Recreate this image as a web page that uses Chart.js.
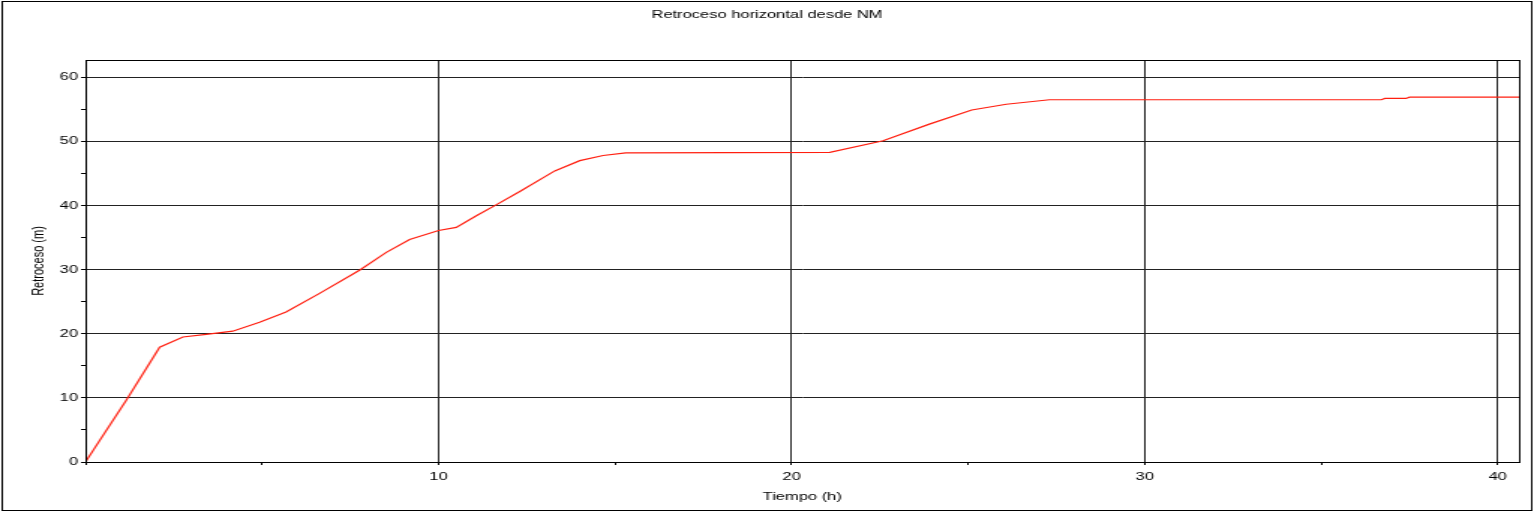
<!DOCTYPE html>
<html>
<head>
<meta charset="utf-8">
<title>Retroceso horizontal desde NM</title>
<script src="https://cdn.jsdelivr.net/npm/chart.js"></script>
<style>
  html, body { margin: 0; padding: 0; background: #fff; overflow: hidden; }
  /* el original está estirado en horizontal */
  #caja { width: 1023px; height: 512px; transform: scaleX(1.4995); transform-origin: 0 0; }
</style>
</head>
<body>
<div id="caja"><canvas id="grafico" width="1023" height="512"></canvas></div>
<script>
// datos
const tiempo = [0, 1.15, 2.1, 2.76, 3.42, 4.17, 4.93, 5.68, 6.63, 7.76, 8.52, 9.18, 10.0, 10.5, 11.07,
    11.63, 12.3, 13.29, 14.0, 14.66, 15.3, 21.08, 22.59, 23.9, 25.1, 26.08, 27.3, 36.7, 36.8, 37.4, 37.5, 40.6];
const retroceso = [0, 9.6, 17.9, 19.5, 19.9, 20.4, 21.8, 23.4, 26.3, 29.9, 32.7, 34.7, 36.1, 36.6, 38.4,
    40.1, 42.2, 45.4, 47.0, 47.8, 48.2, 48.3, 50.1, 52.7, 54.9, 55.8, 56.5, 56.5, 56.7, 56.7, 56.9, 56.9];
const titulo = 'Retroceso horizontal desde NM';
const tituloX = 'Tiempo (h)';
const tituloY = 'Retroceso (m)';

const fuente = { family: "'Liberation Sans', Arial, sans-serif", size: 11, weight: 'normal' };
const gris = '#222';

// marco exterior y borde del área de trazado
const marco = {
    id: 'marco',
    afterDraw(chart) {
        const c = chart.ctx, a = chart.chartArea;
        c.save();
        c.strokeStyle = '#000';
        c.lineWidth = 1;
        c.strokeRect(Math.round(a.left) + 0.5, Math.round(a.top) + 0.5,
            Math.round(a.right - a.left), Math.round(a.bottom - a.top));
        c.strokeRect(1.5, 1.5, chart.width - 3, chart.height - 3);
        c.restore();
    }
};

var ctx = document.getElementById('grafico');
var grafico = new Chart(ctx, {
    type: 'line',
    data: {
        datasets: [{
            label: tituloY,
            data: tiempo.map((t, i) => ({ x: t, y: retroceso[i] })),
            borderColor: 'rgb(255, 30, 15)',
            borderWidth: 1.2,
            pointRadius: 0,
            tension: 0,
            fill: false
        }]
    },
    options: {
        responsive: false,
        devicePixelRatio: 1,
        animation: false,
        layout: { padding: 0 },
        plugins: {
            legend: { display: false },
            tooltip: { enabled: false },
            title: {
                display: true,
                text: titulo,
                color: '#000',
                font: fuente,
                padding: { top: 8, bottom: 38.8 }
            }
        },
        scales: {
            x: {
                type: 'linear',
                min: 0,
                max: 40.6,
                afterFit: s => { s.height = 50; },
                ticks: {
                    stepSize: 5,
                    includeBounds: false,
                    maxTicksLimit: 20,
                    autoSkip: false,
                    maxRotation: 0,
                    padding: 5,
                    color: '#000',
                    font: fuente,
                    callback: v => (v > 0 && v % 10 === 0) ? v : ''
                },
                grid: {
                    color: c => (c.tick && c.tick.value % 10 === 0) ? gris : 'rgba(0,0,0,0)',
                    tickColor: '#000',
                    tickLength: 3
                },
                border: { color: '#000', width: 1 },
                title: { display: true, text: tituloX, color: '#000', font: fuente, padding: { top: 0, bottom: 8 } }
            },
            y: {
                min: 0,
                max: 62.7,
                afterFit: s => { s.width = 57; },
                ticks: {
                    stepSize: 5,
                    includeBounds: false,
                    maxTicksLimit: 20,
                    autoSkip: false,
                    padding: 2,
                    color: '#000',
                    font: fuente,
                    callback: v => v % 10 === 0 ? v : ''
                },
                grid: {
                    color: c => (c.tick && c.tick.value % 10 === 0) ? gris : 'rgba(0,0,0,0)',
                    tickColor: '#000',
                    tickLength: 3
                },
                border: { color: '#000', width: 1 },
                title: { display: true, text: tituloY, color: '#000', font: fuente, padding: { top: 19, bottom: 0 } }
            },
            // margen derecho vacío, así el título queda centrado en todo el lienzo
            margen: {
                position: 'right',
                afterFit: s => { s.width = 10; },
                grid: { display: false, drawTicks: false },
                ticks: { display: false },
                border: { display: false }
            }
        }
    },
    plugins: [marco]
});
</script>
</body>
</html>
